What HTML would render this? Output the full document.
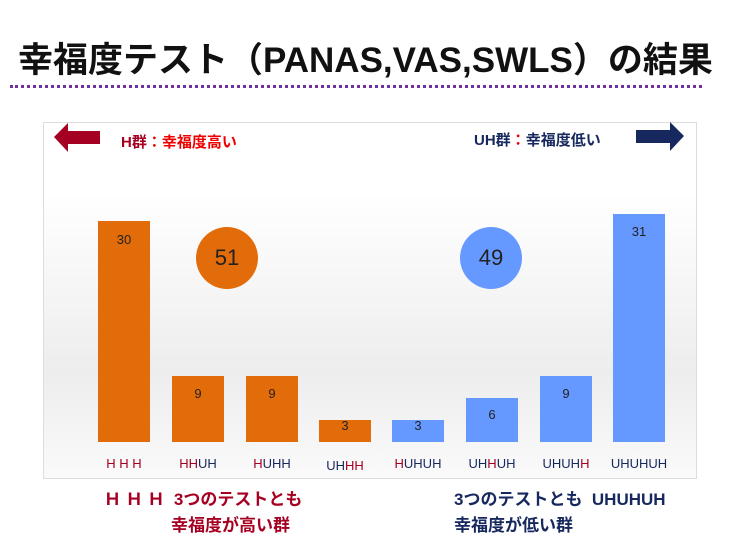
<!DOCTYPE html>
<html><head><meta charset="utf-8"><style>
body{margin:0;width:736px;height:553px;background:#fff;position:relative;overflow:hidden;font-family:"Liberation Sans","Noto Sans CJK JP",sans-serif}
.a{position:absolute}
.bar{position:absolute;width:52px}
.o{background:#e36c0a}.b{background:#6699ff}
.v{position:absolute;width:52px;text-align:center;font-size:13px;color:#222}
.l{position:absolute;width:74px;text-align:center;font-size:13px;color:#17285e;top:456px}
.r{color:#a50021}
</style></head><body>
<div class="a" style="left:18px;top:32px;font-size:35px;font-weight:bold;color:#111;white-space:nowrap">幸福度テスト（PANAS,VAS,SWLS）の結果</div>
<div class="a" style="left:10px;top:85px;width:692px;border-top:3px dotted #7030a0"></div>
<div class="a" style="left:43px;top:122px;width:652px;height:355px;border:1px solid #ddd;background:linear-gradient(#fff 0%,#fff 20%,#ededed 70%,#fafafa 100%)"></div>
<svg class="a" style="left:54px;top:122px" width="50" height="32"><polygon points="0,15 14,1 14,9 46,9 46,22 14,22 14,30" fill="#a50021"/></svg>
<div class="a" style="left:121px;top:131px;font-size:15px;font-weight:bold;color:#e00"><span style="color:#a50021">H群</span>：幸福度高い</div>
<div class="a" style="left:474px;top:129px;font-size:15px;font-weight:bold;color:#17285e">UH群<span style="color:#e00">：</span>幸福度低い</div>
<svg class="a" style="left:636px;top:121px" width="50" height="32"><polygon points="48,15 34,1 34,9 0,9 0,22 34,22 34,30" fill="#17285e"/></svg>
<div class="bar o" style="left:98px;top:221px;height:221px"></div>
<div class="bar o" style="left:172px;top:376px;height:66px"></div>
<div class="bar o" style="left:246px;top:376px;height:66px"></div>
<div class="bar o" style="left:319px;top:420px;height:22px"></div>
<div class="bar b" style="left:392px;top:420px;height:22px"></div>
<div class="bar b" style="left:466px;top:398px;height:44px"></div>
<div class="bar b" style="left:540px;top:376px;height:66px"></div>
<div class="bar b" style="left:613px;top:214px;height:228px"></div>
<div class="v" style="left:98px;top:232px">30</div>
<div class="v" style="left:172px;top:386px">9</div>
<div class="v" style="left:246px;top:386px">9</div>
<div class="v" style="left:319px;top:418px">3</div>
<div class="v" style="left:392px;top:418px">3</div>
<div class="v" style="left:466px;top:407px">6</div>
<div class="v" style="left:540px;top:386px">9</div>
<div class="v" style="left:613px;top:224px">31</div>
<div class="a" style="left:196px;top:227px;width:62px;height:62px;border-radius:50%;background:#e36c0a;color:#222;font-size:22px;text-align:center;line-height:62px">51</div>
<div class="a" style="left:460px;top:227px;width:62px;height:62px;border-radius:50%;background:#6699ff;color:#222;font-size:22px;text-align:center;line-height:62px">49</div>
<div class="l r" style="left:87px">H H H</div>
<div class="l" style="left:161px"><span class="r">HH</span>UH</div>
<div class="l" style="left:235px"><span class="r">H</span>UHH</div>
<div class="l" style="left:308px;top:458px">UH<span class="r">HH</span></div>
<div class="l" style="left:381px"><span class="r">H</span>UHUH</div>
<div class="l" style="left:455px">UH<span class="r">H</span>UH</div>
<div class="l" style="left:529px">UHUH<span class="r">H</span></div>
<div class="l" style="left:602px">UHUHUH</div>
<div class="a" style="left:104px;top:487px;font-size:17px;font-weight:bold;color:#a50021;line-height:26px">Ｈ Ｈ Ｈ&nbsp; 3つのテストとも<br><span style="padding-left:67px">幸福度が高い群</span></div>
<div class="a" style="left:454px;top:487px;font-size:17px;font-weight:bold;color:#17285e;line-height:26px">3つのテストとも&nbsp; UHUHUH<br>幸福度が低い群</div>
</body></html>
